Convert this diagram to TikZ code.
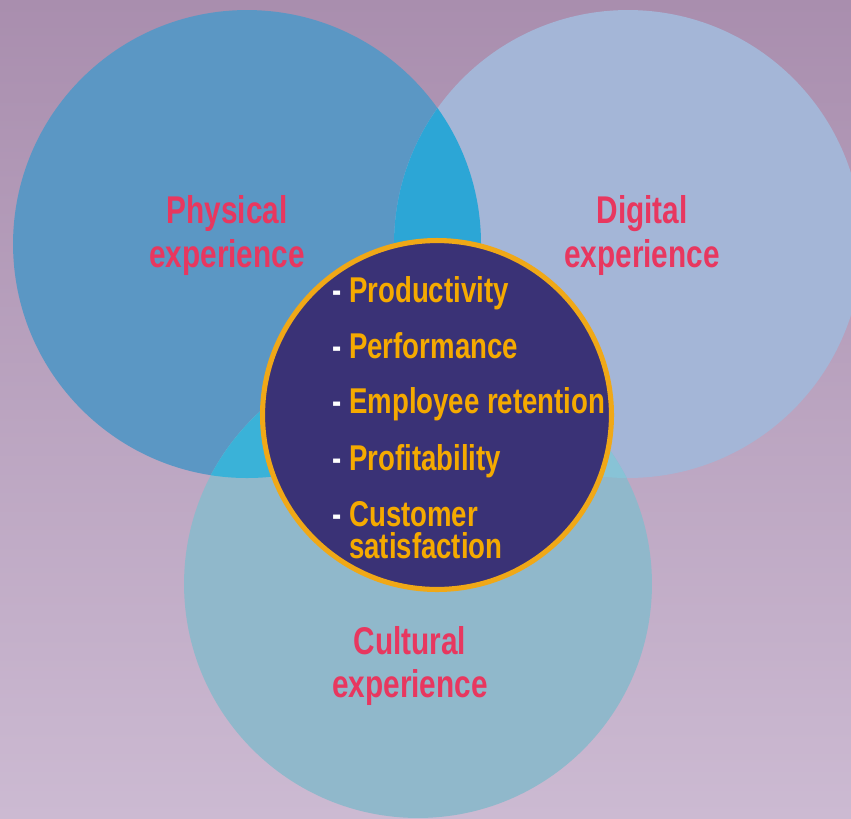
\documentclass[tikz,border=0pt]{standalone}
\usepackage{fontspec}
\setmainfont{Liberation Sans}[FakeStretch=0.77]
\usepackage{xcolor}

\definecolor{bgtop}{HTML}{A98EAE}
\definecolor{bgbottom}{HTML}{CCBAD2}
\definecolor{physblue}{HTML}{5B97C4}
\definecolor{digiblue}{HTML}{A4B6D7}
\definecolor{cultblue}{HTML}{90B8CB}
\definecolor{physdigi}{HTML}{2CA6D6}
\definecolor{physcult}{HTML}{3AB2D8}
\definecolor{digicult}{HTML}{88C3D6}
\definecolor{corefill}{HTML}{3A3276}
\definecolor{coreedge}{HTML}{F0A817}
\definecolor{labelred}{HTML}{E8375F}
\definecolor{itemgold}{HTML}{F5AA00}

\tikzset{
  bubble/.style={circle, inner sep=0pt, minimum size=9.36cm},
  area/.style={text=labelred, font=\bfseries\fontsize{22}{24.5}\selectfont, align=center},
  item/.style={text=itemgold, font=\bfseries\fontsize{20.4}{17.8}\selectfont, align=left, anchor=base west, inner sep=0pt}
}

\newcommand{\dash}{{\color{white}-}\ }

\begin{document}
\begin{tikzpicture}[x=0.02cm, y=-0.02cm]
  \useasboundingbox (0,0) rectangle (851,818);
  \shade[top color=bgtop, bottom color=bgbottom] (0,0) rectangle (851,818);

  % the three experience circles
  \foreach \name / \x / \y / \col in {physical/247/244/physblue, digital/628/244/digiblue, cultural/418/584/cultblue} {
    \node[bubble, fill=\col] (\name) at (\x,\y) {};
  };

  % overlaps
  \begin{scope}
    \clip (physical.center) circle[radius=234];
    \fill[physdigi] (digital.center) circle[radius=234];
    \fill[physcult] (cultural.center) circle[radius=234];
  \end{scope}
  \begin{scope}
    \clip (digital.center) circle[radius=234];
    \fill[digicult] (cultural.center) circle[radius=234];
  \end{scope}

  % core circle
  \node[circle, minimum size=6.98cm, fill=corefill, draw=coreedge, line width=2.9pt] (core) at (437,415) {};

  \node[area] (physlabel) at (227,235.5) {Physical\\experience};
  \node[area] (digilabel) at (642,235.5) {Digital\\experience};
  \node[area] (cultlabel) at (410,666) {Cultural\\experience};

  \foreach \y / \txt in {302/Productivity, 358/Performance, 413/Employee retention, 470/Profitability} {
    \node[item] at (332,\y) {\dash\txt};
  };
  % base of a two-line node is its last line
  \node[item] (customer) at (332,558) {\dash Customer\\\phantom{\dash}satisfaction};
\end{tikzpicture}
\end{document}
